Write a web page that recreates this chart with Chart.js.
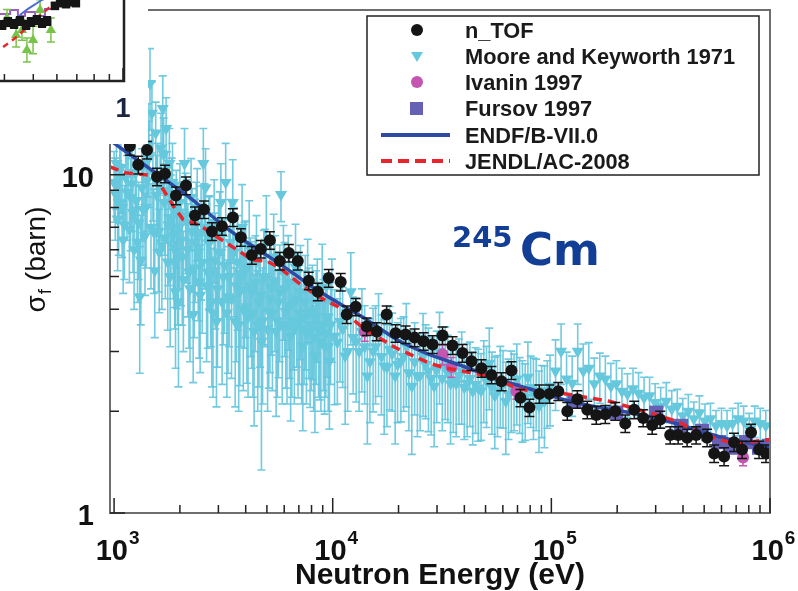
<!DOCTYPE html>
<html>
<head>
<meta charset="utf-8">
<script src="https://cdn.jsdelivr.net/npm/chart.js@4.4.1/dist/chart.umd.min.js"></script>
<style>
  html, body { margin: 0; padding: 0; background: #fff; }
  #wrap { position: relative; width: 798px; height: 591px; overflow: hidden; }
  #main { position: absolute; left: 0; top: 0; }
  #inset { position: absolute; left: 0; top: 0; width: 148px; height: 144px; overflow: hidden; background: #fff; }
  #insetCanvas { position: absolute; left: -200px; top: -100px; }
</style>
</head>
<body>
<div id="wrap">
  <canvas id="main" width="798" height="591"></canvas>
  <div id="inset"><canvas id="insetCanvas" width="348" height="245"></canvas></div>
</div>
<script>
// ---- main plot data (neutron energy in eV, cross section in barn) ----
const nTofE = [1180, 1290, 1415, 1572, 1710, 1919, 2132, 2344, 2576, 2803,
  3113, 3494, 3802, 4267, 4691, 5157, 5728, 6298, 6923, 7772,
  8543, 9587, 10880, 11590, 12740, 14300, 15890, 17650, 19400, 21540,
  23680, 26030, 28620, 31790, 35310, 39230, 43120, 47900, 53210, 59110,
  65670, 72190, 79360, 88150, 97930, 107600, 118300, 131500, 146000, 160500,
  176500, 196000, 217800, 239300, 263000, 289200, 314600, 349500, 380200, 417800,
  459300, 515700, 555200, 616600, 684800, 745000, 819000, 891000, 958700];
const nTofXS = [12.16, 10.70, 11.84, 9.87, 10.07, 8.68, 9.29, 7.58, 7.90, 6.80,
  7.04, 7.48, 6.54, 5.79, 6.03, 6.40, 5.56, 5.87, 5.56, 4.86,
  4.51, 4.95, 4.82, 3.86, 4.07, 3.56, 3.44, 3.86, 3.40, 3.37,
  3.30, 3.22, 3.15, 3.35, 3.13, 2.97, 2.81, 2.68, 2.56, 2.45,
  2.64, 2.19, 2.05, 2.25, 2.25, 2.29, 2.00, 2.17, 2.02, 1.95,
  1.96, 2.00, 1.84, 2.02, 1.91, 1.82, 1.89, 1.70, 1.70, 1.67,
  1.70, 1.67, 1.50, 1.47, 1.62, 1.54, 1.73, 1.54, 1.50];
const nTofErr = [.73, .64, .71, .59, .60, .52, .56, .45, .47, .41,
  .42, .45, .39, .35, .36, .38, .33, .35, .33, .29,
  .27, .30, .29, .23, .24, .21, .21, .23, .20, .20,
  .20, .19, .19, .20, .19, .18, .17, .16, .15, .15,
  .16, .13, .12, .14, .14, .14, .12, .13, .12, .12,
  .12, .12, .11, .12, .11, .11, .11, .10, .10, .10,
  .10, .10, .09, .09, .10, .09, .10, .09, .09];

const mooreE = [1000, 1025, 1050, 1075, 1100, 1130, 1160, 1190, 1220, 1250,
  1280, 1310, 1340, 1370, 1400, 1430, 1460, 1490, 1520, 1550,
  1580, 1610, 1640, 1670, 1700, 1730, 1760, 1790, 1820, 1850,
  1880, 1910, 1940, 1970, 2000, 2050, 2100, 2150, 2200, 2250,
  2300, 2350, 2400, 2450, 2500, 2560, 2620, 2680, 2740, 2800,
  2870, 2940, 3000, 3080, 3160, 3240, 3320, 3400, 3490, 3580,
  3670, 3760, 3850, 3950, 4050, 4150, 4260, 4370, 4480, 4600,
  4720, 4840, 4970, 5100, 5230, 5370, 5510, 5650, 5800, 5950,
  6100, 6260, 6420, 6590, 6760, 6940, 7120, 7300, 7490, 7680,
  7880, 8080, 8290, 8500, 8720, 8950, 9180, 9420, 9660, 9910,
  10200, 10800, 11400, 12100, 12800, 13600, 14400, 15300, 16200, 17200,
  18200, 19300, 20500, 21700, 23000, 24400, 25900, 27400, 29100, 30800,
  32700, 34600, 36700, 38900, 41200, 43700, 46300, 49100, 52000, 55100,
  58400, 61900, 65600, 69500, 73700, 78100, 82800, 87800, 93000, 98600,
  104500, 110800, 117400, 124500, 132000, 139900, 148300, 157200, 166600, 176600,
  187200, 198400, 210300, 222900, 236300, 250500, 265500, 281400, 298300, 316200,
  335200, 355300, 376600, 399200, 423100, 448500, 475400, 503900, 534200, 566200,
  600200, 636200, 674400, 714900, 757800, 803300, 851500, 902600, 956800];
const mooreXS = [9.48, 10.8, 8.28, 10.5, 6.41, 9.80, 11.6, 8.56, 7.74, 10.1,
  6.32, 4.36, 9.16, 10.8, 8.00, 12.4, 18.6, 15.2, 6.76, 13.3,
  9.48, 5.91, 12.0, 15.7, 8.28, 13.7, 5.52, 10.8, 7.48, 9.48,
  6.11, 4.51, 6.76, 4.21, 8.28, 5.71, 10.8, 7.23, 5.16, 8.56,
  3.86, 6.32, 8.00, 4.82, 6.76, 10.8, 9.16, 5.16, 6.32, 4.21,
  7.23, 3.68, 5.91, 8.28, 4.99, 9.48, 4.36, 6.32, 8.28, 3.68,
  5.52, 4.51, 6.99, 5.16, 4.07, 6.11, 4.51, 3.44, 5.52, 4.21,
  3.22, 4.99, 6.32, 3.94, 4.66, 5.71, 3.44, 4.21, 8.74, 5.16,
  3.94, 4.82, 3.33, 4.21, 5.34, 3.68, 4.51, 3.11, 4.21, 4.82,
  3.44, 3.94, 2.91, 4.21, 3.44, 4.66, 3.11, 3.81, 2.81, 4.21,
  3.33, 3.68, 2.91, 4.51, 3.22, 3.44, 2.54, 3.01, 3.33, 2.72,
  3.05, 2.54, 2.81, 3.11, 2.37, 2.54, 2.91, 2.63, 2.37, 3.01,
  2.72, 2.41, 2.41, 2.63, 2.42, 2.29, 2.34, 2.54, 2.77, 2.22,
  2.45, 2.14, 2.37, 2.49, 2.22, 2.52, 2.26, 2.07, 2.14, 2.37,
  2.63, 3.01, 2.49, 2.42, 3.01, 2.63, 2.68, 2.41, 2.54, 2.49,
  2.37, 2.41, 2.29, 2.25, 2.33, 2.26, 2.19, 2.22, 2.12, 2.07,
  2.14, 2.03, 2.07, 1.94, 2.00, 1.90, 1.98, 1.87, 1.90, 1.81,
  1.84, 1.81, 1.84, 1.90, 1.87, 1.78, 1.87, 1.84, 1.81];
const mooreErr = [2.24, 2.9, 2.5, 2.8, 1.95, 2.65, 2.74, 2.6, 2.6, 2.7,
  2.13, 1.77, 2.78, 2.9, 2.7, 3.8, 5.0, 3.6, 2.3, 3.1,
  2.9, 2.0, 3.2, 3.9, 2.5, 3.2, 2.05, 2.9, 2.5, 2.9,
  2.06, 1.83, 2.74, 1.85, 2.5, 2.12, 2.9, 2.44, 2.09, 2.6,
  1.43, 2.13, 2.43, 1.95, 2.5, 2.9, 2.78, 2.09, 2.35, 1.85,
  2.44, 1.62, 2.19, 2.5, 1.85, 2.9, 1.77, 2.13, 2.8, 1.62,
  2.05, 2.13, 2.36, 2.09, 1.65, 2.27, 1.83, 1.63, 2.05, 1.85,
  1.88, 1.85, 2.35, 1.6, 1.73, 1.93, 1.51, 1.7, 1.47, 1.92,
  1.6, 1.79, 1.46, 1.56, 1.8, 1.49, 1.67, 1.36, 1.56, 1.63,
  1.39, 1.46, 1.18, 1.42, 1.28, 1.57, 1.15, 1.29, 1.04, 1.42,
  1.24, 1.24, 1.08, 1.37, 1.09, 1.16, 0.94, 1.02, 1.12, 1.01,
  1.03, 0.94, 0.95, 1.05, 0.88, 0.86, 0.98, 0.89, 0.80, 0.91,
  0.83, 0.81, 0.73, 0.80, 0.74, 0.70, 0.71, 0.69, 0.75, 0.67,
  0.66, 0.65, 0.64, 0.67, 0.60, 0.68, 0.61, 0.56, 0.58, 0.56,
  0.62, 0.61, 0.50, 0.49, 0.61, 0.53, 0.51, 0.46, 0.43, 0.42,
  0.40, 0.41, 0.39, 0.33, 0.35, 0.34, 0.33, 0.30, 0.29, 0.28,
  0.29, 0.27, 0.25, 0.24, 0.24, 0.23, 0.24, 0.23, 0.21, 0.20,
  0.20, 0.20, 0.20, 0.21, 0.20, 0.19, 0.20, 0.20, 0.20];

// the Moore set is much denser below 100 keV: the points between the ones above
const mooreMoreE = [1012, 1038, 1062, 1088, 1115, 1145, 1175, 1205, 1235, 1265,
  1295, 1325, 1355, 1385, 1415, 1445, 1475, 1505, 1535, 1565,
  1595, 1625, 1655, 1685, 1715, 1745, 1775, 1805, 1835, 1865,
  1895, 1925, 1955, 1985, 2025, 2075, 2125, 2175, 2225, 2275,
  2325, 2375, 2425, 2475, 2530, 2590, 2650, 2710, 2770, 2835,
  2905, 2970, 3040, 3120, 3200, 3280, 3360, 3445, 3535, 3625,
  3715, 3805, 3900, 4000, 4100, 4205, 4315, 4425, 4540, 4660,
  4780, 4900, 5035, 5165, 5300, 5440, 5580, 5725, 5875, 6025,
  6180, 6340, 6505, 6675, 6850, 7030, 7210, 7400, 7580, 7780,
  7980, 8180, 8400, 8610, 8830, 9060, 9300, 9540, 9780,
  10500, 11100, 11700, 12400, 13200, 14000, 14800, 15700, 16700, 17700,
  18700, 19800, 21100, 22300, 23700, 25100, 26600, 28200, 29900, 31700,
  33600, 35600, 37800, 40000, 42400, 45000, 47700, 50500, 53500, 56700,
  60100, 63700, 67500, 71600, 75900, 80400, 85200, 90300, 95800];
const mooreMoreXS = [8.8, 7.4, 9.9, 8.0, 7.1, 8.9, 6.9, 9.4, 6.0, 8.4,
  7.2, 5.6, 7.9, 6.6, 9.6, 11.2, 7.0, 10.2, 5.2, 8.7,
  6.8, 9.2, 6.2, 11.5, 6.5, 9.0, 7.1, 5.0, 8.6, 6.6,
  5.5, 7.8, 5.8, 7.0, 6.4, 4.9, 7.6, 6.0, 4.6, 6.8,
  5.3, 7.1, 5.9, 4.4, 5.5, 7.0, 4.7, 6.3, 5.1, 3.9,
  5.6, 4.6, 6.6, 4.2, 5.4, 3.9, 5.0, 4.3, 5.9, 4.7,
  3.6, 5.0, 4.0, 5.3, 3.8, 4.7, 3.9, 4.8, 3.6, 4.4,
  3.7, 5.0, 3.5, 4.3, 3.9, 4.8, 3.7, 4.5, 3.6, 4.6,
  3.6, 4.1, 3.7, 3.5, 4.3, 3.9, 3.5, 3.8, 3.4, 3.9,
  3.6, 3.3, 3.8, 3.5, 3.2, 3.6, 3.4, 3.1, 3.6,
  3.2, 3.5, 3.0, 3.3, 3.0, 3.1, 2.8, 3.1, 2.9, 2.7,
  2.95, 2.75, 2.9, 2.6, 2.8, 2.55, 2.75, 2.5, 2.65, 2.5,
  2.6, 2.45, 2.55, 2.35, 2.5, 2.4, 2.3, 2.45, 2.35, 2.3,
  2.4, 2.25, 2.35, 2.3, 2.2, 2.35, 2.3, 2.2, 2.3];
const mooreMoreErr = [2.4, 2.2, 2.7, 2.3, 2.2, 2.5, 2.1, 2.6, 2.0, 2.5,
  2.3, 2.0, 2.5, 2.2, 2.8, 3.2, 2.4, 2.9, 1.9, 2.7,
  2.3, 2.8, 2.2, 3.2, 2.2, 2.7, 2.4, 1.9, 2.6, 2.3,
  2.0, 2.5, 2.2, 2.4, 2.3, 1.9, 2.5, 2.2, 1.8, 2.3,
  2.0, 2.4, 2.2, 1.8, 2.1, 2.4, 1.9, 2.3, 2.0, 1.7,
  2.1, 1.9, 2.3, 1.8, 2.0, 1.7, 1.9, 1.8, 2.1, 1.9,
  1.6, 1.9, 1.7, 2.0, 1.6, 1.8, 1.7, 1.8, 1.6, 1.7,
  1.6, 1.9, 1.5, 1.7, 1.6, 1.8, 1.5, 1.7, 1.5, 1.7,
  1.5, 1.6, 1.5, 1.4, 1.6, 1.5, 1.4, 1.4, 1.3, 1.4,
  1.3, 1.3, 1.4, 1.3, 1.2, 1.3, 1.2, 1.1, 1.2,
  1.1, 1.15, 1.0, 1.05, 1.0, 1.0, 0.95, 1.0, 0.95, 0.9,
  0.95, 0.9, 0.9, 0.85, 0.85, 0.8, 0.85, 0.8, 0.8, 0.75,
  0.75, 0.72, 0.72, 0.7, 0.7, 0.68, 0.66, 0.66, 0.64, 0.62,
  0.62, 0.6, 0.6, 0.58, 0.56, 0.56, 0.55, 0.53, 0.52];

const ivaninE = [14000, 31790, 34940, 69230, 752900];
const ivaninXS = [3.44, 2.94, 2.70, 2.29, 1.46];
const ivaninErr = [0.22, 0.20, 0.18, 0.12, 0.08];

const fursovE = [127400, 198100, 301600, 392400, 489200, 584900, 670700, 777000, 891000, 989000];
const fursovXS = [2.14, 1.98, 1.98, 1.81, 1.75, 1.62, 1.56, 1.62, 1.56, 1.58];

const endfE = [958, 1043, 1460, 2223, 3148, 4178, 5728, 8452, 11960, 14300, 19600,
  27730, 39230, 56100, 79360, 112300, 165700, 220000, 311300, 440400, 629700, 1000000];
const endfXS = [12.66, 12.16, 10.41, 8.56, 7.09, 6.23, 5.45, 4.57, 3.99, 3.73, 3.26,
  2.94, 2.72, 2.49, 2.33, 2.17, 2.05, 1.99, 1.90, 1.78, 1.66, 1.57];

const jendlE = [958, 1123, 1539, 1657, 1860, 2066, 2470, 2833, 3494, 4312, 4995,
  5728, 7069, 8452, 10760, 11960, 14000, 19600, 27730, 33150, 46900, 56100,
  69230, 88150, 117100, 184000, 280300, 372300, 459300, 566900, 699300, 802000, 1000000];
const jendlXS = [10.56, 10.14, 9.93, 9.16, 8.11, 7.38, 7.09, 6.67, 6.11, 5.59, 5.56,
  5.30, 4.76, 4.39, 4.05, 3.81, 3.49, 3.07, 2.77, 2.68, 2.57, 2.49,
  2.34, 2.26, 2.25, 2.14, 1.98, 1.87, 1.75, 1.66, 1.60, 1.62, 1.65];

const xMajorTicks = [1e3, 1e4, 1e5, 1e6];
const xTickExp = ['3', '4', '5', '6'];
const yMajorTicks = [1, 10];
const yTickLabels = ['1', '10'];

// ---- inset data (only its lower right corner shows) ----
const insetNtofX = [0.393, 0.411, 0.431, 0.451, 0.473, 0.491, 0.514, 0.535, 0.556, 0.591, 0.615, 0.644, 0.669, 0.695];
const insetNtofY = [32.7, 34.5, 33.3, 35.1, 32.7, 34.5, 35.7, 33.9, 35.1, 43.9, 45.6, 45.0, 46.2, 45.6];
const insetNtofErr = [2.5, 2.5, 2.5, 2.5, 2.5, 2.5, 2.5, 2.5, 2.5, 2, 2, 2, 2, 2];
const insetGreenX = [0.408, 0.438, 0.458, 0.476, 0.499, 0.527, 0.573];
const insetGreenY = [36.8, 26.9, 29.8, 18.1, 24.0, 41.5, 29.8];
const insetGreenErr = [5, 7, 6, 7, 8, 6, 7];
const insetStepX = [0.386, 0.418, 0.444, 0.469, 0.507, 0.547, 0.578];
const insetStepY = [39.2, 41.5, 38.0, 40.4, 38.0, 42.1, 44.4];
const insetEndfX = [0.434, 0.469, 0.515, 0.569];
const insetEndfY = [35.7, 40.9, 45.6, 50.3];
const insetJendlX = [0.396, 0.444, 0.499, 0.569];
const insetJendlY = [19.9, 26.3, 35.1, 43.3];

const FONT = '"Liberation Sans", Arial, Helvetica, sans-serif';
const toPts = (xs, ys) => xs.map((x, i) => ({ x: x, y: ys[i] }));

// vertical error bars, drawn just before the markers of their dataset
const errBars = {
  id: 'errBars',
  beforeDatasetDraw(chart, args) {
    const ds = chart.data.datasets[args.index];
    if (!ds.errors) return;
    const y = chart.scales.y, a = chart.chartArea, ctx = chart.ctx;
    ctx.save();
    ctx.beginPath();
    ctx.rect(a.left, a.top, a.right - a.left, a.bottom - a.top);
    ctx.clip();
    ctx.strokeStyle = ds.errColor;
    ctx.lineWidth = ds.errWidth;
    const c = ds.capHalf;
    args.meta.data.forEach((pt, i) => {
      const v = ds.data[i].y, e = ds.errors[i];
      const t = y.getPixelForValue(v + e), b = y.getPixelForValue(Math.max(v - e, 1e-3));
      ctx.beginPath();
      ctx.moveTo(pt.x, t); ctx.lineTo(pt.x, b);
      ctx.moveTo(pt.x - c, t); ctx.lineTo(pt.x + c, t);
      ctx.moveTo(pt.x - c, b); ctx.lineTo(pt.x + c, b);
      ctx.stroke();
    });
    ctx.restore();
  }
};

const decor = {
  id: 'decor',
  afterDraw(chart) {
    const ctx = chart.ctx, a = chart.chartArea;
    const xs = chart.scales.x, ys = chart.scales.y;
    ctx.save();
    // frame
    ctx.strokeStyle = '#6e6e6e';
    ctx.lineWidth = 2;
    ctx.strokeRect(a.left, a.top, a.right - a.left, a.bottom - a.top);

    // ticks pointing inward
    ctx.strokeStyle = '#222';
    ctx.lineWidth = 1.5;
    ctx.beginPath();
    for (let d = 1e3; d <= 1e6; d *= 10) {
      for (let m = 1; m <= 9; m++) {
        const v = d * m;
        if (v > 1e6) break;
        const px = xs.getPixelForValue(v);
        const len = m === 1 ? 15 : 8;
        ctx.moveTo(px, a.bottom); ctx.lineTo(px, a.bottom - len);
      }
    }
    for (let d = 1; d <= 10; d *= 10) {
      for (let m = 1; m <= 9; m++) {
        const v = d * m;
        if (v > ys.max) break;
        const py = ys.getPixelForValue(v);
        const len = m === 1 ? 15 : 9;
        ctx.moveTo(a.left, py); ctx.lineTo(a.left + len, py);
      }
    }
    ctx.stroke();

    // tick labels
    ctx.fillStyle = '#111';
    xMajorTicks.forEach((v, i) => {
      const px = xs.getPixelForValue(v);
      ctx.font = 'bold 29px ' + FONT;
      const w1 = ctx.measureText('10').width;
      ctx.font = 'bold 19px ' + FONT;
      const w2 = ctx.measureText(xTickExp[i]).width;
      const start = px + 3 - (w1 + w2) / 2;
      ctx.textAlign = 'left';
      ctx.textBaseline = 'alphabetic';
      ctx.font = 'bold 29px ' + FONT;
      ctx.fillText('10', start, 560);
      ctx.font = 'bold 19px ' + FONT;
      ctx.fillText(xTickExp[i], start + w1 + 1, 544);
    });
    ctx.font = 'bold 29px ' + FONT;
    ctx.textAlign = 'right';
    yMajorTicks.forEach((v, i) => {
      const py = ys.getPixelForValue(v);
      ctx.fillText(yTickLabels[i], 94, py + 12);
    });

    // axis titles
    ctx.textAlign = 'center';
    ctx.font = 'bold 30px ' + FONT;
    ctx.fillText('Neutron Energy (eV)', (a.left + a.right) / 2, 584);

    ctx.save();
    ctx.translate(45, 260);
    ctx.rotate(-Math.PI / 2);
    ctx.textAlign = 'left';
    ctx.font = '28px ' + FONT;
    const wS = ctx.measureText('\u03c3').width;
    const wB = ctx.measureText(' (barn)').width;
    ctx.font = '19px ' + FONT;
    const wF = ctx.measureText('f').width;
    let x0 = -(wS + wF + wB) / 2;
    ctx.font = '28px ' + FONT;
    ctx.fillText('\u03c3', x0, 0);
    ctx.font = '19px ' + FONT;
    ctx.fillText('f', x0 + wS + 1, 6);
    ctx.font = '28px ' + FONT;
    ctx.fillText(' (barn)', x0 + wS + wF + 1, 0);
    ctx.restore();

    // legend
    const L = { x: 367, y: 16, w: 392, h: 159 };
    ctx.fillStyle = '#fff';
    ctx.fillRect(L.x, L.y, L.w, L.h);
    ctx.strokeStyle = '#222';
    ctx.lineWidth = 1.5;
    ctx.strokeRect(L.x, L.y, L.w, L.h);
    const rows = [30, 56, 82, 108, 135, 161];
    const mx = 417;
    ctx.fillStyle = '#151515';
    ctx.beginPath(); ctx.arc(mx, rows[0], 6, 0, Math.PI * 2); ctx.fill();
    ctx.fillStyle = '#66c8dc';
    ctx.beginPath();
    ctx.moveTo(mx - 6, rows[1] - 4); ctx.lineTo(mx + 6, rows[1] - 4); ctx.lineTo(mx, rows[1] + 6);
    ctx.closePath(); ctx.fill();
    ctx.fillStyle = '#c455b0';
    ctx.beginPath(); ctx.arc(mx, rows[2], 6, 0, Math.PI * 2); ctx.fill();
    ctx.fillStyle = '#6661b5';
    ctx.fillRect(mx - 7, rows[3] - 6, 13, 13);
    ctx.lineWidth = 4;
    ctx.strokeStyle = '#2f4aa5';
    ctx.beginPath(); ctx.moveTo(381, rows[4]); ctx.lineTo(450, rows[4]); ctx.stroke();
    ctx.strokeStyle = '#e8252d';
    ctx.setLineDash([11, 6]);
    ctx.beginPath(); ctx.moveTo(381, rows[5]); ctx.lineTo(450, rows[5]); ctx.stroke();
    ctx.setLineDash([]);
    ctx.fillStyle = '#1a1a1a';
    ctx.textAlign = 'left';
    ctx.font = 'bold 21.8px ' + FONT;
    chart.data.datasets.forEach((ds, i) => ctx.fillText(ds.label, 465, rows[i] + 8));

    // isotope label
    ctx.fillStyle = '#123f95';
    ctx.font = 'bold 29px "DejaVu Sans", Verdana, sans-serif';
    ctx.fillText('245', 452, 247);
    ctx.font = 'bold 45px "DejaVu Sans", Verdana, sans-serif';
    ctx.fillText('Cm', 520, 265);
    ctx.restore();
  }
};

new Chart(document.getElementById('main'), {
  type: 'scatter',
  data: {
    datasets: [
      {
        label: 'n_TOF', order: 0, data: toPts(nTofE, nTofXS),
        errors: nTofErr, errColor: '#151515', errWidth: 1.5, capHalf: 5,
        pointStyle: 'circle', pointRadius: 6, backgroundColor: '#151515', borderWidth: 0
      },
      {
        label: 'Moore and Keyworth 1971', order: 5,
        data: toPts(mooreE.concat(mooreMoreE), mooreXS.concat(mooreMoreXS)),
        errors: mooreErr.concat(mooreMoreErr), errColor: 'rgba(98,196,220,0.9)', errWidth: 1.6, capHalf: 4,
        pointStyle: 'triangle', pointRotation: 180, pointRadius: 7, backgroundColor: '#66c8dc', borderWidth: 0
      },
      {
        label: 'Ivanin 1997', order: 3, data: toPts(ivaninE, ivaninXS),
        errors: ivaninErr, errColor: '#c455b0', errWidth: 1.5, capHalf: 4,
        pointStyle: 'circle', pointRadius: 6, backgroundColor: '#c455b0', borderWidth: 0
      },
      {
        label: 'Fursov 1997', order: 4, data: toPts(fursovE, fursovXS),
        pointStyle: 'rect', pointRadius: 10, backgroundColor: '#6661b5', borderWidth: 0
      },
      {
        label: 'ENDF/B-VII.0', order: 2, data: toPts(endfE, endfXS), showLine: true,
        pointRadius: 0, borderColor: '#2f4aa5', borderWidth: 3.5, tension: 0.2
      },
      {
        label: 'JENDL/AC-2008', order: 1, data: toPts(jendlE, jendlXS), showLine: true,
        pointRadius: 0, borderColor: '#e8252d', borderWidth: 3.5, borderDash: [9, 6]
      }
    ]
  },
  options: {
    responsive: false,
    animation: false,
    events: [],
    layout: { padding: { left: 110, right: 28, top: 6, bottom: 78 } },
    plugins: { legend: { display: false }, tooltip: { enabled: false } },
    scales: {
      x: { type: 'logarithmic', min: 958, max: 1e6, display: false },
      y: { type: 'logarithmic', min: 1, max: 30.7, display: false }
    }
  },
  plugins: [{ id: 'bg', beforeDraw(c) { c.ctx.save(); c.ctx.fillStyle = '#fff'; c.ctx.fillRect(0, 0, c.width, c.height); c.ctx.restore(); } }, errBars, decor]
});

// ---- inset (cropped: only its corner is visible) ----
const insetDecor = {
  id: 'insetDecor',
  afterDraw(chart) {
    const ctx = chart.ctx, a = chart.chartArea, xs = chart.scales.x;
    ctx.save();
    ctx.strokeStyle = '#222';
    ctx.lineWidth = 2.5;
    ctx.beginPath();
    ctx.moveTo(a.right, a.top); ctx.lineTo(a.right, a.bottom); ctx.lineTo(a.left, a.bottom);
    ctx.stroke();
    ctx.lineWidth = 1.5;
    ctx.beginPath();
    for (let m = 2; m <= 10; m++) {
      const px = xs.getPixelForValue(m / 10);
      const len = m === 10 ? 13 : 7;
      ctx.moveTo(px, a.bottom); ctx.lineTo(px, a.bottom - len);
    }
    ctx.stroke();
    ctx.fillStyle = '#1b2440';
    ctx.font = 'bold 27px ' + FONT;
    ctx.textAlign = 'center';
    ctx.fillText('1', xs.getPixelForValue(1), 217);
    ctx.restore();
  }
};

new Chart(document.getElementById('insetCanvas'), {
  type: 'scatter',
  data: {
    datasets: [
      {
        label: 'n_TOF', order: 0, data: toPts(insetNtofX, insetNtofY),
        errors: insetNtofErr, errColor: '#151515', errWidth: 1.5, capHalf: 4,
        pointStyle: 'rect', pointRadius: 6, backgroundColor: '#151515', borderWidth: 0
      },
      {
        label: 'green', order: 3, data: toPts(insetGreenX, insetGreenY),
        errors: insetGreenErr, errColor: '#7cc34e', errWidth: 1.5, capHalf: 4,
        pointStyle: 'triangle', pointRadius: 6, backgroundColor: '#78c44a', borderWidth: 0
      },
      {
        label: 'step', order: 4, data: toPts(insetStepX, insetStepY), showLine: true, stepped: true,
        pointRadius: 0, borderColor: '#9c5fc0', borderWidth: 2
      },
      {
        label: 'endf', order: 2, data: toPts(insetEndfX, insetEndfY), showLine: true,
        pointRadius: 0, borderColor: '#4a6fd0', borderWidth: 2, tension: 0.3
      },
      {
        label: 'jendl', order: 1, data: toPts(insetJendlX, insetJendlY), showLine: true,
        pointRadius: 0, borderColor: '#e8252d', borderWidth: 2.5, borderDash: [6, 5]
      }
    ]
  },
  options: {
    responsive: false,
    animation: false,
    events: [],
    layout: { padding: { left: 20, right: 24, top: 10, bottom: 64 } },
    plugins: { legend: { display: false }, tooltip: { enabled: false } },
    scales: {
      x: { type: 'logarithmic', min: 0.0962, max: 1.0078, display: false },
      y: { type: 'linear', min: 0, max: 100, display: false }
    }
  },
  plugins: [errBars, insetDecor]
});
</script>
</body>
</html>
